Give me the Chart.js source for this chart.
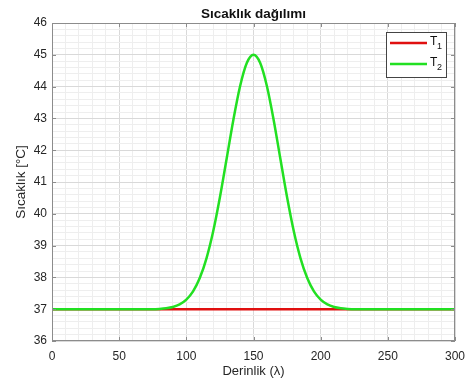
<!DOCTYPE html>
<html>
<head>
<meta charset="utf-8">
<script src="https://cdn.jsdelivr.net/npm/chart.js@4/dist/chart.umd.min.js"></script>
<style>
  html, body { margin: 0; padding: 0; background: #fff; }
  #wrap { width: 465px; height: 382px; }
</style>
</head>
<body>
<div id="wrap"><canvas id="chart"></canvas></div>
<script>
// values
const depth = [0, 5, 10, 15, 20, 25, 30, 35, 40, 45, 50, 55, 60, 65, 70, 75,
  80, 85, 90, 95, 100, 105, 110, 115, 120, 125, 130, 135, 140, 145, 150,
  155, 160, 165, 170, 175, 180, 185, 190, 195, 200, 205, 210, 215, 220,
  225, 230, 235, 240, 245, 250, 255, 260, 265, 270, 275, 280, 285, 290, 295, 300];
const t1 = depth.map(() => 37);
const t2 = [37, 37, 37, 37, 37, 37, 37, 37, 37, 37, 37, 37, 37, 37, 37, 37,
  37.01, 37.03, 37.07, 37.15, 37.30, 37.56, 37.98, 38.60, 39.45, 40.52, 41.73, 42.95, 44.01, 44.74, 45.00,
  44.74, 44.01, 42.95, 41.73, 40.52, 39.45, 38.60, 37.98, 37.56, 37.30, 37.15, 37.07, 37.03, 37.01,
  37, 37, 37, 37, 37, 37, 37, 37, 37, 37, 37, 37, 37, 37, 37, 37];
const seriesNames = ['T1', 'T2'];
const seriesColors = ['#e01010', '#22e022'];
const xMajor = [0, 50, 100, 150, 200, 250, 300];
const yMajor = [36, 37, 38, 39, 40, 41, 42, 43, 44, 45, 46];

const FONT = "'Liberation Sans', Arial, Helvetica, sans-serif";
const isMajorY = v => Math.abs(v - Math.round(v)) < 1e-6;
const isMajorX = v => Math.abs(v % 50) < 1e-6;

// MATLAB-like box, inward ticks, title and legend
const matlabAxes = {
  id: 'matlabAxes',
  afterDraw(chart) {
    const { ctx, chartArea: a, scales: { x, y } } = chart;
    ctx.save();
    ctx.strokeStyle = '#8c8c8c';
    ctx.lineWidth = 1;
    ctx.strokeRect(a.left + 0.5, a.top + 0.5, a.right - a.left - 1, a.bottom - a.top - 1);
    ctx.beginPath();
    xMajor.forEach(v => {
      const px = Math.round(x.getPixelForValue(v)) + 0.5;
      ctx.moveTo(px, a.bottom); ctx.lineTo(px, a.bottom - 4);
      ctx.moveTo(px, a.top); ctx.lineTo(px, a.top + 4);
    });
    yMajor.forEach(v => {
      const py = Math.round(y.getPixelForValue(v)) + 0.5;
      ctx.moveTo(a.left, py); ctx.lineTo(a.left + 4, py);
      ctx.moveTo(a.right, py); ctx.lineTo(a.right - 4, py);
    });
    ctx.stroke();

    // title
    ctx.fillStyle = '#111';
    ctx.font = 'bold 13.5px ' + FONT;
    ctx.textAlign = 'center';
    ctx.textBaseline = 'middle';
    ctx.fillText('Sıcaklık dağılımı', (a.left + a.right) / 2, 14);

    // legend
    const bw = 60, bh = 45;
    const bx = a.right - 9 - bw, by = a.top + 9;
    ctx.fillStyle = '#fff';
    ctx.fillRect(bx, by, bw, bh);
    ctx.strokeStyle = '#444';
    ctx.lineWidth = 1;
    ctx.strokeRect(bx + 0.5, by + 0.5, bw, bh);
    chart.data.datasets.forEach((ds, i) => {
      const ly = by + 11 + i * 21;
      ctx.strokeStyle = ds.borderColor;
      ctx.lineWidth = 2.5;
      ctx.beginPath();
      ctx.moveTo(bx + 4, ly); ctx.lineTo(bx + 41, ly);
      ctx.stroke();
      ctx.fillStyle = '#111';
      ctx.textAlign = 'left';
      ctx.font = '12px ' + FONT;
      ctx.fillText(ds.label.charAt(0), bx + 44, ly - 1);
      ctx.font = '9px ' + FONT;
      ctx.fillText(ds.label.slice(1), bx + 51, ly + 4);
    });
    ctx.restore();
  }
};

new Chart(document.getElementById('chart'), {
  type: 'line',
  data: {
    datasets: [
      {
        label: seriesNames[0],
        data: depth.map((d, i) => ({ x: d, y: t1[i] })),
        borderColor: seriesColors[0],
        borderWidth: 2.5,
        pointRadius: 0,
        order: 2
      },
      {
        label: seriesNames[1],
        data: depth.map((d, i) => ({ x: d, y: t2[i] })),
        borderColor: seriesColors[1],
        borderWidth: 2.5,
        pointRadius: 0,
        cubicInterpolationMode: 'monotone',
        order: 1
      }
    ]
  },
  options: {
    responsive: true,
    maintainAspectRatio: false,
    animation: false,
    layout: { padding: { top: 23, right: 10, left: 0, bottom: 0 } },
    plugins: {
      legend: { display: false },
      tooltip: { enabled: false },
      title: { display: false }
    },
    scales: {
      x: {
        type: 'linear',
        min: 0,
        max: 300,
        afterFit: s => { s.height = 41; s.paddingLeft = 0; s.paddingRight = 0; },
        border: { display: false },
        grid: {
          drawTicks: false,
          color: c => isMajorX(c.tick.value) ? '#d9d9d9' : '#eeeeee'
        },
        ticks: {
          stepSize: 10,
          autoSkip: false,
          maxRotation: 0,
          padding: 8,
          color: '#262626',
          font: { family: FONT, size: 12 },
          callback: v => isMajorX(v) ? v : ''
        },
        title: {
          display: true,
          text: 'Derinlik (λ)',
          color: '#262626',
          font: { family: FONT, size: 13 },
          padding: { top: 0, bottom: 3 }
        }
      },
      y: {
        min: 36,
        max: 46,
        afterFit: s => { s.width = 52; s.paddingTop = 0; s.paddingBottom = 0; },
        border: { display: false },
        grid: {
          drawTicks: false,
          color: c => isMajorY(c.tick.value) ? '#d9d9d9' : '#eeeeee'
        },
        ticks: {
          stepSize: 0.2,
          autoSkip: false,
          padding: 5,
          color: '#262626',
          font: { family: FONT, size: 12 },
          callback: v => isMajorY(v) ? Math.round(v) : ''
        },
        title: {
          display: true,
          text: 'Sıcaklık [°C]',
          color: '#262626',
          font: { family: FONT, size: 13.5 },
          padding: { top: 13, bottom: 0 }
        }
      }
    }
  },
  plugins: [matlabAxes]
});
</script>
</body>
</html>
